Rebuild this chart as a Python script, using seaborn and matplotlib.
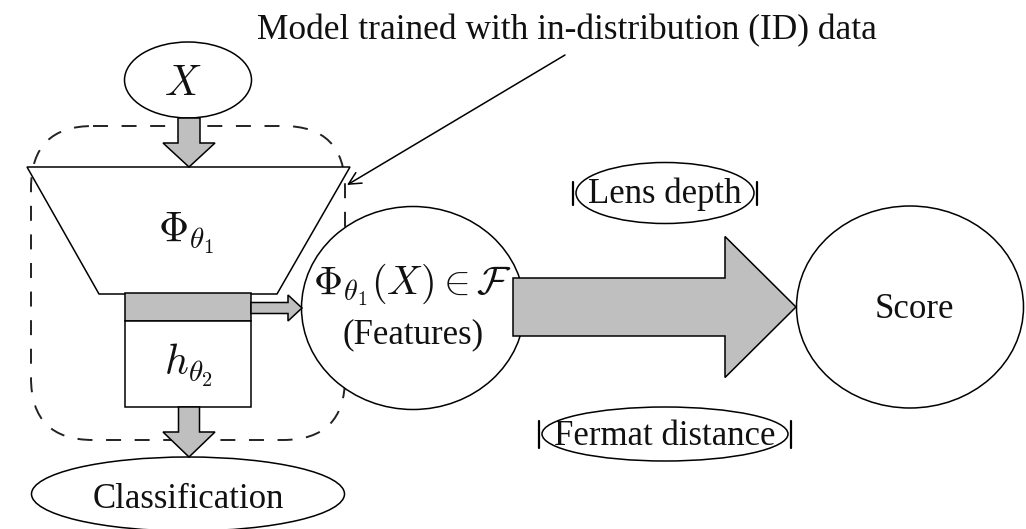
import matplotlib
matplotlib.use("Agg")
import matplotlib.pyplot as plt
import seaborn as sns
from matplotlib.patches import Ellipse, Polygon, FancyBboxPatch, Rectangle

sns.set_theme(style="white")
plt.rcParams['font.family'] = ['Liberation Serif', 'DejaVu Serif']
plt.rcParams['mathtext.fontset'] = 'cm'

# ---- labels ----
title_text = "Model trained with in-distribution (ID) data"
input_label = r"$X$"
encoder_label = r"$\Phi_{\theta_1}$"
head_label = r"$h_{\theta_2}$"
feature_labels = [r"$\Phi_{\theta_1}(X) \in \mathcal{F}$", "(Features)"]
output_labels = ["Classification", "Score"]
method_labels = ["Lens depth", "Fermat distance"]

GRAY = "#bfbfbf"
LW = 1.1
FS = 25
MFS = 30

fig = plt.figure(figsize=(10.26, 5.29), dpi=100)
ax = fig.add_axes([0, 0, 1, 1])
ax.set_xlim(0, 1026)
ax.set_ylim(529, 0)
ax.axis("off")


def label(x, y, s, fs):
    ax.text(x, y, s, fontsize=fs, ha="center", va="baseline", color="#111111", zorder=5)


def down_arrow(cx, y0, y_head, y_tip, sw, hw, z=4):
    pts = [(cx - sw / 2, y0), (cx + sw / 2, y0), (cx + sw / 2, y_head),
           (cx + hw / 2, y_head), (cx, y_tip), (cx - hw / 2, y_head),
           (cx - sw / 2, y_head)]
    ax.add_patch(Polygon(pts, closed=True, fc=GRAY, ec="black", lw=LW, zorder=z))


def right_arrow(cy, x0, x_head, x_tip, sh, hh, z=4):
    pts = [(x0, cy - sh / 2), (x_head, cy - sh / 2), (x_head, cy - hh / 2),
           (x_tip, cy), (x_head, cy + hh / 2), (x_head, cy + sh / 2),
           (x0, cy + sh / 2)]
    ax.add_patch(Polygon(pts, closed=True, fc=GRAY, ec="black", lw=LW, zorder=z))


# dashed model box
ax.add_patch(FancyBboxPatch((31, 126), 314, 314,
                            boxstyle="round,pad=0,rounding_size=62",
                            fc="none", ec="#222222", lw=1.4,
                            linestyle=(0, (7.7, 7.0)), zorder=1))

# encoder trapezoid
ax.add_patch(Polygon([(27, 167), (350, 167), (277, 294), (99, 294)],
                     closed=True, fc="white", ec="black", lw=LW, zorder=2))
label(186, 242, encoder_label, MFS)

# feature bar and head box
ax.add_patch(Rectangle((125, 293), 126, 28, fc=GRAY, ec="black", lw=LW, zorder=3))
ax.add_patch(Rectangle((125, 321), 126, 86, fc="white", ec="black", lw=LW, zorder=3))
label(188, 375, head_label, MFS)

# input ellipse
ax.add_patch(Ellipse((188, 80), 127, 76, fc="white", ec="black", lw=LW, zorder=3))
label(183, 95, input_label, MFS)

# arrows in the model
down_arrow(189, 118, 143, 167, 22, 52)
down_arrow(189, 407, 432, 457, 21, 52)
right_arrow(308, 251, 288, 302, 11, 26)

# classification ellipse
ax.add_patch(Ellipse((188, 494), 313, 74, fc="white", ec="black", lw=LW, zorder=3))
label(188, 508, output_labels[0], FS)

# features circle
ax.add_patch(Ellipse((413, 308), 223, 203, fc="white", ec="black", lw=LW, zorder=3))
label(413, 294, feature_labels[0], MFS - 1)
label(413, 343, feature_labels[1], FS)

# big arrow
right_arrow(307, 513, 725, 796, 58, 141, z=4)

# score ellipse
ax.add_patch(Ellipse((910, 307), 227, 202, fc="white", ec="black", lw=LW, zorder=3))
label(914, 318, output_labels[1], FS)

# method ellipses with end bars
for (cx, cy, w, h, bh, base), lab in zip([(665, 193, 178, 61, 23, 203),
                                          (665, 434, 246, 54, 27, 445)],
                                         method_labels):
    ax.add_patch(Ellipse((cx, cy), w, h, fc="white", ec="black", lw=LW, zorder=3))
    for sx in (-1, 1):
        xb = cx + sx * (w / 2 + 3)
        ax.plot([xb, xb], [cy - bh / 2, cy + bh / 2], color="black", lw=1.6, zorder=4)
    label(cx, base, lab, FS)

# annotation
ax.text(567, 39, title_text, fontsize=FS + 0.5, ha="center", va="baseline",
        color="#111111", zorder=5)
ax.annotate("", xy=(347, 185), xytext=(565, 55),
            arrowprops=dict(arrowstyle="->", lw=LW, color="black",
                            mutation_scale=22, shrinkA=0, shrinkB=0), zorder=6)

fig.savefig("out.png", dpi=100)
